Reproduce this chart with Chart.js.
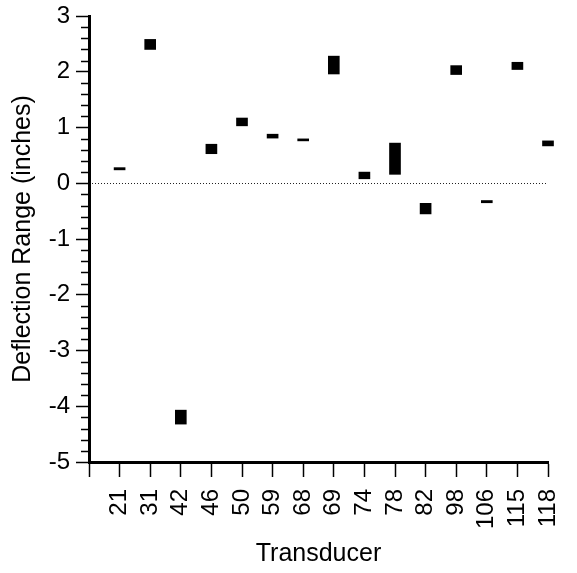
<!DOCTYPE html>
<html>
<head>
<meta charset="utf-8">
<script src="https://cdn.jsdelivr.net/npm/chart.js@4"></script>
<style>
  html, body { margin: 0; padding: 0; background: #fff; }
  #wrap { width: 577px; height: 573px; }
</style>
</head>
<body>
<div id="wrap"><canvas id="c" width="577" height="573"></canvas></div>
<script>
// Transducer numbers (categories)
const transducers = ['21','31','42','46','50','59','68','69','74','78','82','98','106','115','118'];
// Deflection range, lower end (inches)
const rangeLow  = [0.24, 2.40, -4.32, 0.53, 1.03, 0.81, 0.76, 1.96, 0.08, 0.16, -0.55, 1.95, -0.35, 2.04, 0.67];
// Deflection range, upper end (inches)
const rangeHigh = [0.28, 2.58, -4.07, 0.70, 1.17, 0.88, 0.79, 2.28, 0.20, 0.72, -0.36, 2.11, -0.31, 2.17, 0.76];
// Y axis ticks
const yMin = -5, yMax = 3, yMajorStep = 1, yMinorStep = 0.2;

const FONT = "'Liberation Sans', Arial, Helvetica, sans-serif";
Chart.defaults.font.family = FONT;
Chart.defaults.color = '#000';

// leading empty slot so that the first category sits one step right of the y axis
const labels = [''].concat(transducers);
const barData = [null].concat(transducers.map((t, i) => [rangeLow[i], rangeHigh[i]]));

const extras = {
  id: 'extras',
  afterDatasetsDraw(chart) {
    const ctx = chart.ctx;
    const y = chart.scales.y, x = chart.scales.x;
    ctx.save();
    // minor ticks on y axis
    ctx.strokeStyle = '#000';
    ctx.lineWidth = 1.5;
    const n = Math.round((yMax - yMin) / yMinorStep);
    for (let k = 0; k <= n; k++) {
      if (k % Math.round(yMajorStep / yMinorStep) === 0) continue;
      const v = yMin + k * yMinorStep;
      const py = Math.round(y.getPixelForValue(v)) + 0.5;
      ctx.beginPath();
      ctx.moveTo(x.left - 8, py);
      ctx.lineTo(x.left, py);
      ctx.stroke();
    }
    // dotted zero line
    const y0 = Math.round(y.getPixelForValue(0)) + 0.5;
    ctx.setLineDash([1, 2]);
    ctx.lineWidth = 1;
    ctx.strokeStyle = '#222';
    ctx.beginPath();
    ctx.moveTo(x.getPixelForValue(0) + 3, y0);
    ctx.lineTo(x.getPixelForValue(transducers.length), y0);
    ctx.stroke();
    ctx.restore();
  }
};

new Chart(document.getElementById('c'), {
  type: 'bar',
  data: {
    labels: labels,
    datasets: [{
      data: barData,
      backgroundColor: '#000',
      borderWidth: 0,
      barThickness: 11,
      minBarLength: 2,
      clip: false
    }]
  },
  options: {
    responsive: false,
    animation: false,
    devicePixelRatio: 1,
    layout: { padding: { top: 16, right: 29, bottom: 2, left: 0 } },
    plugins: { legend: { display: false }, tooltip: { enabled: false } },
    scales: {
      x: {
        type: 'category',
        offset: false,
        afterFit(s) { s.height = 109; s.paddingLeft = 0; s.paddingRight = 0; },
        grid: { offset: false, drawOnChartArea: false, drawTicks: true, tickLength: 15, tickColor: '#000', tickWidth: 1.5 },
        border: { display: true, color: '#000', width: 3 },
        ticks: {
          autoSkip: false, minRotation: 90, maxRotation: 90, padding: 12,
          font: { size: 24, family: FONT }, color: '#000'
        },
        title: { display: true, text: 'Transducer', font: { size: 25, family: FONT }, color: '#000', padding: { top: 0, bottom: 2 } }
      },
      y: {
        min: yMin, max: yMax,
        afterFit(s) { s.width = 89; s.paddingTop = 0; s.paddingBottom = 0; },
        grid: { drawOnChartArea: false, drawTicks: true, tickLength: 13, tickColor: '#000', tickWidth: 1.5 },
        border: { display: true, color: '#000', width: 3 },
        ticks: { stepSize: yMajorStep, padding: 6, font: { size: 24, family: FONT }, color: '#000' },
        title: { display: true, text: 'Deflection Range (inches)', font: { size: 25, family: FONT }, color: '#000', padding: { top: 8, bottom: 0 } }
      }
    }
  },
  plugins: [extras]
});
</script>
</body>
</html>
